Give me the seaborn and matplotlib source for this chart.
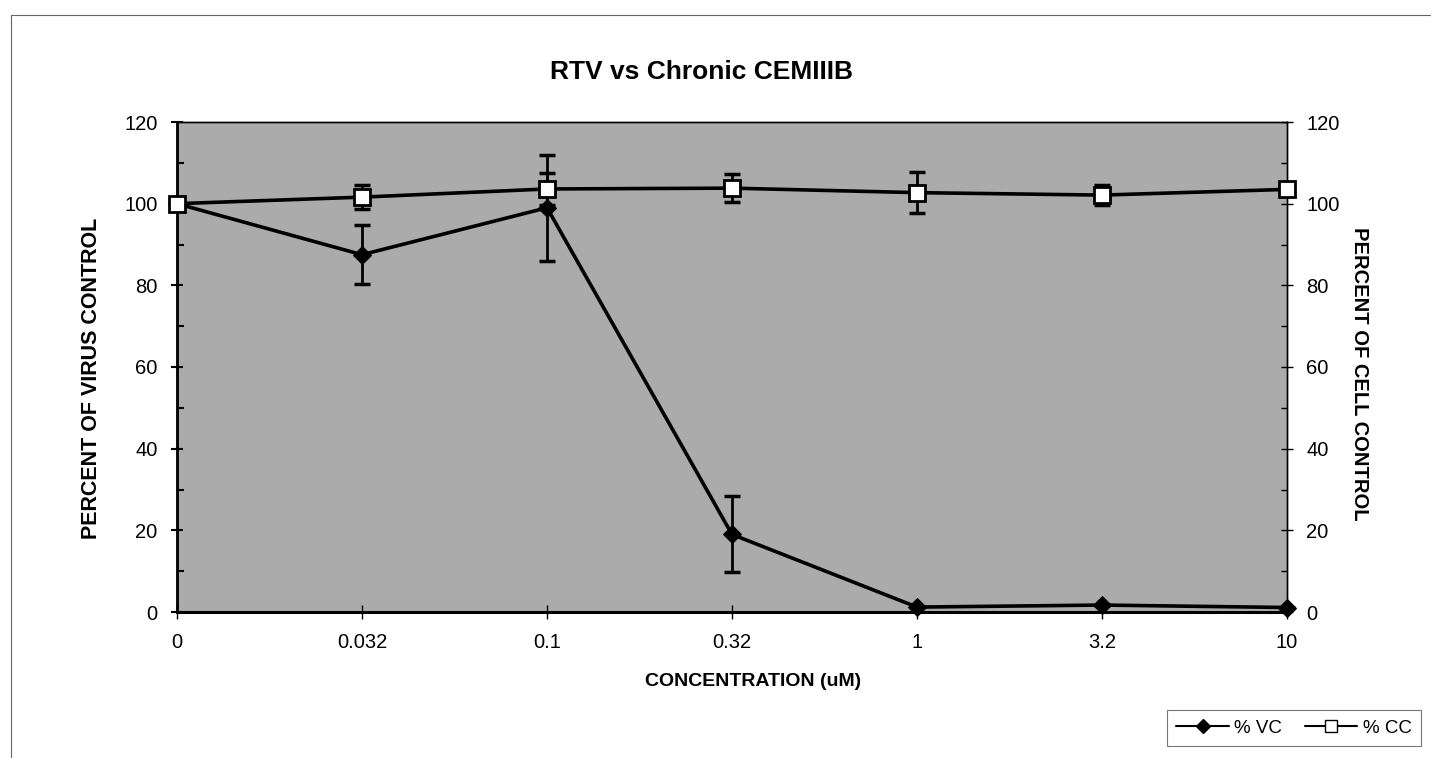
import numpy as np
import pandas as pd
import matplotlib
matplotlib.use("Agg")
import matplotlib.pyplot as plt
from matplotlib.lines import Line2D
from matplotlib.ticker import MultipleLocator
import seaborn as sns

# ---- data ----
categories = ["0", "0.032", "0.1", "0.32", "1", "3.2", "10"]
vc_values = [100, 87.5, 99, 19, 1.2, 1.7, 1.1]
vc_errors = [0, 7.2, 13, 9.3, 0, 0, 0]
cc_values = [100, 101.6, 103.6, 103.8, 102.7, 102.1, 103.5]
cc_errors = [0, 3, 4, 3.5, 5, 2.5, 0]
y_ticks = [0, 20, 40, 60, 80, 100, 120]

sns.set_theme(style="white")
plt.rcParams["font.family"] = ["Liberation Sans", "DejaVu Sans"]
plt.rcParams["text.color"] = "black"
plt.rcParams["xtick.color"] = "black"
plt.rcParams["ytick.color"] = "black"

W, H = 1432, 758
fig = plt.figure(figsize=(W / 100, H / 100), dpi=100)
fig.patch.set_facecolor("white")
ax = fig.add_axes([177 / W, 1 - 612 / H, (1287 - 177) / W, (612 - 122) / H])
ax2 = ax.twinx()

pos = np.arange(len(categories))
df = pd.DataFrame({"pos": pos, "vc": vc_values, "cc": cc_values})

ax.set_facecolor("#ababab")

# error bars
ax.errorbar(pos, vc_values, yerr=vc_errors, fmt="none", ecolor="black",
            elinewidth=2, capsize=6, capthick=2.5, zorder=3, clip_on=False)
ax2.errorbar(pos, cc_values, yerr=cc_errors, fmt="none", ecolor="black",
             elinewidth=2, capsize=6, capthick=2.5, zorder=3, clip_on=False)

sns.lineplot(data=df, x="pos", y="vc", ax=ax, color="black", linewidth=2.6,
             marker="D", markersize=9, markerfacecolor="black",
             markeredgecolor="black", clip_on=False, zorder=4)
sns.lineplot(data=df, x="pos", y="cc", ax=ax2, color="black", linewidth=2.6,
             marker="s", markersize=12, markerfacecolor="white",
             markeredgecolor="black", markeredgewidth=2, clip_on=False, zorder=4)

for a in (ax, ax2):
    a.set_ylim(0, 120)
    a.set_xlim(pos[0], pos[-1])
    a.set_yticks(y_ticks)
    a.yaxis.set_minor_locator(MultipleLocator(10))
    a.set_ylabel("")
    a.set_xlabel("")
    for s in a.spines.values():
        s.set_color("black")
        s.set_linewidth(1)

ax.set_xticks(pos)
ax.set_xticklabels(categories)
ax.spines["left"].set_linewidth(2)
ax.spines["bottom"].set_linewidth(2.2)
ax.tick_params(axis="x", which="major", direction="inout", length=10, width=1,
               labelsize=14.5, pad=10, bottom=True)
ax.tick_params(axis="y", which="major", direction="inout", length=8, width=1.5,
               labelsize=14.5, pad=10, left=True)
ax.tick_params(axis="y", which="minor", direction="in", length=5, width=1.5, left=True)
ax2.tick_params(axis="y", which="major", direction="inout", length=8, width=1,
                labelsize=14.5, pad=10, right=True)
ax2.tick_params(axis="y", which="minor", direction="in", length=4, width=1, right=True)

ax.set_zorder(2)
ax2.set_zorder(3)
ax2.patch.set_visible(False)

# titles and labels
fig.text(702 / W, 1 - 72 / H, "RTV vs Chronic CEMIIIB", ha="center", va="center",
         fontsize=19, fontweight="bold")
fig.text(753 / W, 1 - 682 / H, "CONCENTRATION (uM)", ha="center", va="center",
         fontsize=14, fontweight="bold")
fig.text(92 / W, 1 - 378 / H, "PERCENT OF VIRUS CONTROL", ha="center", va="center",
         rotation=90, fontsize=15.5, fontweight="bold")
fig.text(1360 / W, 1 - 374 / H, "PERCENT OF CELL CONTROL", ha="center", va="center",
         rotation=-90, fontsize=14.5, fontweight="bold")

# legend
handles = [
    Line2D([], [], color="black", linewidth=1.5, marker="D", markersize=7,
           markerfacecolor="black"),
    Line2D([], [], color="black", linewidth=1.5, marker="s", markersize=9,
           markerfacecolor="white", markeredgecolor="black"),
]
leg = fig.legend(handles, ["% VC", "% CC"], loc="center",
                 bbox_to_anchor=(1294 / W, 1 - 728 / H), ncol=2, frameon=True,
                 fontsize=13.5, handlelength=2.8, columnspacing=1.2,
                 handletextpad=0.3, borderpad=0.5, fancybox=False)
leg.get_frame().set_edgecolor("#555555")
leg.get_frame().set_linewidth(0.8)

# outer border
fig.add_artist(Line2D([11 / W, 11 / W], [1 - 15 / H, 0], transform=fig.transFigure,
                      color="#666666", linewidth=0.8))
fig.add_artist(Line2D([11 / W, 1430 / W], [1 - 15 / H, 1 - 15 / H],
                      transform=fig.transFigure, color="#666666", linewidth=0.8))

fig.savefig("out.png", dpi=100)
